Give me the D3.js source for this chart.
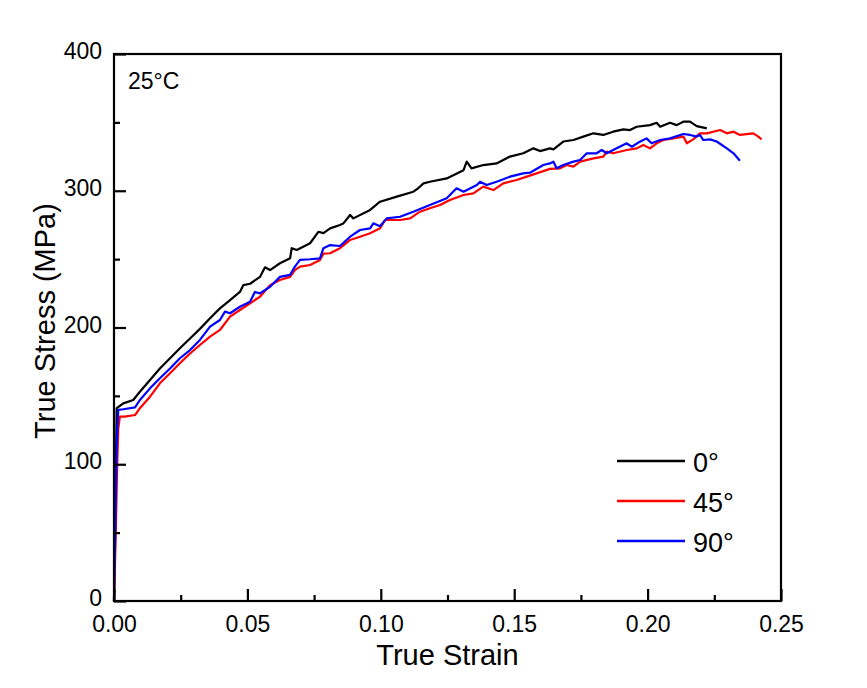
<!DOCTYPE html>
<html><head><meta charset="utf-8">
<script src="https://cdn.jsdelivr.net/npm/d3@7"></script>
<style>body{margin:0;background:#fff;} text{font-family:"Liberation Sans",Arial,sans-serif;fill:#000;}</style>
</head><body><svg id="c" width="867" height="688"></svg>
<script>
const xTicks = [0, 0.05, 0.10, 0.15, 0.20, 0.25];
const xTickLabels = ["0.00","0.05","0.10","0.15","0.20","0.25"];
const yTicks = [0, 100, 200, 300, 400];
const seriesNames = ["0°", "45°", "90°"];
const seriesColors = ["#000000", "#ff0000", "#0000ff"];

const strain0 = [0,0.0004,0.0008,0.001,0.0035,0.0072,0.0097,0.0135,0.0172,0.021,0.0247,0.0285,0.0322,0.036,0.0397,0.0435,0.0472,0.0485,0.051,0.0547,0.0566,0.0585,0.0622,0.066,0.0666,0.0685,0.0735,0.0766,0.0785,0.081,0.0847,0.0859,0.0885,0.0897,0.096,0.0997,0.106,0.1122,0.114,0.116,0.1184,0.1247,0.131,0.1322,0.134,0.1384,0.1434,0.1484,0.1534,0.1572,0.1597,0.1634,0.1647,0.1684,0.1722,0.1759,0.1797,0.1834,0.1871,0.1909,0.1934,0.1959,0.2009,0.2034,0.2047,0.2084,0.2109,0.2134,0.2159,0.2184,0.2222];
const stress0 = [0,50,110,141,144.5,147,153,161.6,170,177.5,184.8,192,199,206.7,214,220,226,231,232,237,244,242,247,250.6,258,256.7,261.6,270,269,272.5,275,276,282.3,279.8,286,292,295.7,299.3,301.8,305.4,306.6,309,315,321.3,316.4,318.8,320,325,327.4,331,329,331,330.3,336,337.1,339.6,342,340.8,343.2,344.9,344.4,346.8,348,349.7,346.8,349.7,348,350.5,350.5,347.3,345.6];

const strain45 = [0,0.0006,0.0012,0.0016,0.0022,0.0041,0.0079,0.0097,0.0135,0.0172,0.021,0.0247,0.0285,0.0322,0.036,0.0397,0.0435,0.0472,0.051,0.0547,0.0585,0.0622,0.066,0.0678,0.0697,0.0735,0.0772,0.0785,0.081,0.0847,0.0885,0.0922,0.096,0.0997,0.1016,0.1072,0.111,0.1147,0.1184,0.1222,0.1259,0.131,0.1347,0.1384,0.1422,0.1459,0.1509,0.1547,0.1584,0.1634,0.1672,0.1697,0.1722,0.1747,0.1797,0.1834,0.1847,0.1871,0.1922,0.1959,0.1984,0.2009,0.2034,0.2059,0.2097,0.2134,0.2147,0.2171,0.2196,0.2222,0.2272,0.2297,0.2322,0.2346,0.2396,0.2415,0.2427];
const stress45 = [0,45,100,126,134.8,134.8,136,141,149.4,159.2,166.5,173.8,181,187.2,193.3,198.2,208,212.8,217.7,222.5,231,234.7,237,242,244.5,245.7,249.4,254,254.3,258,264,266.4,268.9,272.5,278.6,278.6,279.8,284.7,287.2,289.6,293.3,296.9,298.1,303,300.5,305.4,307.9,310.3,312.7,316,316.4,318.8,317.6,321.3,323.7,324.9,328.6,327.4,329.8,331,333.5,331,334.7,337.1,338.3,339.6,334.7,337.6,342,342,344.4,342,343.2,340.8,342,339.6,337.6];

const strain90 = [0,0.0005,0.001,0.0016,0.0035,0.0079,0.0097,0.0135,0.0172,0.021,0.0247,0.0285,0.0322,0.036,0.0397,0.0416,0.0435,0.0472,0.051,0.0528,0.0547,0.0585,0.0622,0.066,0.0678,0.0697,0.0735,0.0772,0.0785,0.081,0.0847,0.0885,0.0922,0.096,0.0972,0.0997,0.1022,0.1072,0.1122,0.1184,0.1247,0.1284,0.131,0.136,0.1372,0.1397,0.1434,0.1484,0.1534,0.1559,0.1609,0.1634,0.1647,0.1659,0.1684,0.1722,0.1747,0.1772,0.1809,0.1828,0.1847,0.1884,0.1922,0.1941,0.1971,0.1996,0.2015,0.2047,0.2084,0.2134,0.2159,0.2184,0.2196,0.2209,0.2234,0.2259,0.2297,0.2322,0.2346];
const stress90 = [0,55,115,139.7,140.2,141.6,147,155.5,162.9,170,177.5,183.5,190.9,200.6,205.5,211.6,210.4,215.2,218.9,226,225,229.8,237,238.5,244.5,249.4,249.9,250.6,258,260.3,259.6,266.4,271.3,272.5,276.2,274,279.8,281,284.7,289.6,294.5,301.8,299.3,304.2,306.6,304.2,306.6,310.3,312.7,313.2,318.8,320,321.3,316.4,318.8,321.3,322.5,327.4,327.4,329.8,327.4,331,334.7,332.2,335.9,338.3,334.7,337.1,338.3,341.5,340.8,339.6,340.8,337.1,337.6,336,331,327.4,322];

const svg = d3.select("#c");
const L=114, R=781, T=54, B=601;
const x = d3.scaleLinear().domain([0,0.25]).range([L,R]);
const y = d3.scaleLinear().domain([0,400]).range([B,T]);

const series = [
  {name:seriesNames[0], color:seriesColors[0], xs:strain0, ys:stress0},
  {name:seriesNames[1], color:seriesColors[1], xs:strain45, ys:stress45},
  {name:seriesNames[2], color:seriesColors[2], xs:strain90, ys:stress90}
];
const line = d3.line().x(d=>x(d[0])).y(d=>y(d[1]));
series.forEach(s=>{
  svg.append("path").attr("d", line(s.xs.map((v,k)=>[v,s.ys[k]])))
    .attr("fill","none").attr("stroke",s.color).attr("stroke-width",2.2).attr("stroke-linejoin","round");
});

// frame
svg.append("rect").attr("x",L).attr("y",T).attr("width",R-L).attr("height",B-T)
  .attr("fill","none").attr("stroke","#000").attr("stroke-width",2.2);

const FF = "Liberation Sans, Arial, sans-serif";
// x axis
const xAxis = d3.axisBottom(x).tickValues(xTicks).tickFormat((d,i)=>xTickLabels[i]).tickSizeInner(-12).tickSizeOuter(0).tickPadding(15);
const gx = svg.append("g").attr("transform",`translate(0,${B})`).call(xAxis);
gx.select(".domain").remove();
gx.selectAll("line").attr("stroke-width",2.2);
gx.selectAll("text").attr("font-size",23).attr("font-family",FF);
const xMinor = d3.axisBottom(x).tickValues([0.025,0.075,0.125,0.175,0.225]).tickFormat("").tickSizeInner(-6).tickSizeOuter(0);
const gxm = svg.append("g").attr("transform",`translate(0,${B})`).call(xMinor);
gxm.select(".domain").remove(); gxm.selectAll("line").attr("stroke-width",2.2);

// y axis
const yAxis = d3.axisLeft(y).tickValues(yTicks).tickFormat(d3.format("d")).tickSizeInner(-12).tickSizeOuter(0).tickPadding(12);
const gy = svg.append("g").attr("transform",`translate(${L},0)`).call(yAxis);
gy.select(".domain").remove();
gy.selectAll("line").attr("stroke-width",2.2);
gy.selectAll("text").attr("font-size",23).attr("font-family",FF).attr("dy","0.2em");
const yMinor = d3.axisLeft(y).tickValues([50,150,250,350]).tickFormat("").tickSizeInner(-6).tickSizeOuter(0);
const gym = svg.append("g").attr("transform",`translate(${L},0)`).call(yMinor);
gym.select(".domain").remove(); gym.selectAll("line").attr("stroke-width",2.2);

// titles
svg.append("text").attr("x",(L+R)/2).attr("y",665).attr("text-anchor","middle").attr("font-size",29).text("True Strain");
svg.append("text").attr("transform",`translate(55,321) rotate(-90)`).attr("text-anchor","middle").attr("font-size",29).text("True Stress (MPa)");
svg.append("text").attr("x",128).attr("y",89).attr("font-size",23).text("25°C");

// legend
const lg = svg.append("g");
series.forEach((s,i)=>{
  const yy = 461 + i*40;
  lg.append("line").attr("x1",617).attr("x2",685).attr("y1",yy).attr("y2",yy).attr("stroke",s.color).attr("stroke-width",2.5);
  lg.append("text").attr("x",693).attr("y",yy+11).attr("font-size",27).text(s.name);
});
</script></body></html>
